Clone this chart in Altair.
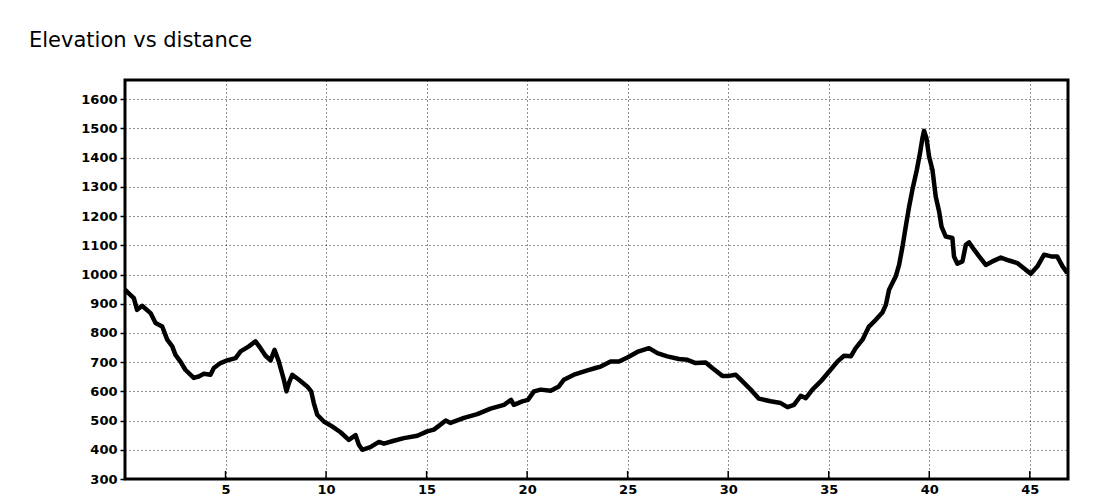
import altair as alt
import pandas as pd

km = [0.0, 0.2, 0.44, 0.6, 0.85, 1.27, 1.52, 1.85, 2.1, 2.35, 2.51, 2.76, 3.0, 3.42, 3.67,
      3.92, 4.25, 4.42, 4.75, 5.08, 5.5, 5.75, 6.16, 6.49, 6.74, 6.99, 7.24, 7.44, 7.65,
      7.9, 8.03, 8.15, 8.32, 8.65, 9.06, 9.26, 9.39, 9.56, 9.89, 10.3, 10.72, 11.13, 11.47,
      11.63, 11.8, 12.2, 12.63, 12.88, 13.37, 13.87, 14.54, 15.03, 15.36, 15.61, 15.95,
      16.19, 16.86, 17.52, 18.18, 18.85, 19.2, 19.34, 19.76, 20.04, 20.34, 20.67, 21.17,
      21.58, 21.83, 22.33, 23.0, 23.4, 23.66, 24.15, 24.57, 25.01, 25.48, 26.06, 26.48,
      26.97, 27.55, 27.97, 28.38, 28.88, 29.21, 29.71, 30.04, 30.37, 30.71, 31.12, 31.53,
      32.11, 32.61, 32.95, 33.27, 33.61, 33.86, 34.19, 34.6, 35.02, 35.43, 35.76, 36.1,
      36.34, 36.68, 37.0, 37.34, 37.67, 37.84, 38.0, 38.33, 38.5, 38.67, 38.83, 39.0,
      39.16, 39.38, 39.54, 39.66, 39.74, 39.86, 39.99, 40.16, 40.32, 40.49, 40.61, 40.82,
      41.15, 41.23, 41.4, 41.65, 41.82, 41.98, 42.23, 42.48, 42.81, 43.14, 43.56, 43.97,
      44.39, 44.8, 45.05, 45.38, 45.71, 46.06, 46.36, 46.63, 46.87]
elev = [948, 935, 919, 879, 893, 868, 834, 822, 777, 754, 725, 702, 674, 646, 651,
        660, 657, 680, 697, 706, 714, 737, 754, 771, 748, 722, 706, 742, 702,
        640, 600, 628, 657, 640, 617, 600, 560, 520, 497, 480, 460, 434, 450,
        417, 400, 409, 427, 421, 431, 440, 448, 463, 469, 482, 500,
        492, 509, 522, 541, 554, 571, 554, 566, 571, 600, 606, 602,
        617, 640, 657, 672, 680, 685, 702, 702, 717, 735, 748, 731,
        720, 711, 708, 697, 699, 680, 653, 653, 657, 634, 606, 575,
        566, 560, 546, 554, 585, 577, 606, 634, 668, 702, 722, 720,
        748, 777, 822, 845, 870, 896, 948, 993, 1033, 1096, 1164, 1233,
        1290, 1358, 1416, 1467, 1492, 1467, 1404, 1358, 1267, 1216, 1164, 1130,
        1125, 1062, 1037, 1045, 1102, 1110, 1085, 1062, 1033, 1045, 1058, 1048,
        1039, 1016, 1003, 1028, 1068, 1062, 1062, 1028, 1005]

x_ticks = [5, 10, 15, 20, 25, 30, 35, 40, 45]
y_ticks = [300, 400, 500, 600, 700, 800, 900, 1000, 1100, 1200, 1300, 1400, 1500, 1600]

df = pd.DataFrame({"km": km, "elev": elev})
tick_df = pd.DataFrame({"km": x_ticks})

W, H = 943, 399
FONT = "DejaVu Sans"

x_scale = alt.Scale(domain=[0, 46.9], nice=False, zero=False)
y_scale = alt.Scale(domain=[300, 1666], nice=False, zero=False)

x_axis = alt.Axis(values=x_ticks, title="", grid=True, gridDash=[1, 3],
                  gridColor="#000", gridWidth=1, gridOpacity=0.85, tickSize=0,
                  labelPadding=4, domain=False, labelFont=FONT, labelFontSize=13,
                  labelFontWeight="bold", labelColor="black", format="d")
y_axis = alt.Axis(values=y_ticks, title="", grid=True, gridDash=[1, 3],
                  gridColor="#000", gridWidth=1, gridOpacity=0.85, tickSize=5,
                  tickColor="black", tickWidth=1.5, labelPadding=3, domain=False,
                  labelFont=FONT, labelFontSize=13, labelFontWeight="bold",
                  labelColor="black", format="d")

line = alt.Chart(df).mark_line(color="black", strokeWidth=4.5, strokeJoin="round").encode(
    x=alt.X("km:Q", scale=x_scale, axis=x_axis),
    y=alt.Y("elev:Q", scale=y_scale, axis=y_axis),
)

ticks = alt.Chart(tick_df).mark_rule(color="black", strokeWidth=1.5).encode(
    x=alt.X("km:Q", scale=x_scale, axis=x_axis),
    y=alt.value(H),
    y2=alt.value(H - 8),
)

chart = alt.layer(line, ticks).properties(
    width=W,
    height=H,
    autosize=alt.AutoSizeParams(type="none"),
    padding={"left": 117, "top": 72, "right": 24, "bottom": 16},
    title=alt.TitleParams(
        text="Elevation vs distance", anchor="start", frame="group", dx=-96,
        offset=12, baseline="alphabetic", font=FONT, fontSize=21,
        fontWeight="normal", color="black"),
).configure_view(stroke="black", strokeWidth=3)

chart.save("out.html", embed_options={"renderer": "svg", "actions": False})
